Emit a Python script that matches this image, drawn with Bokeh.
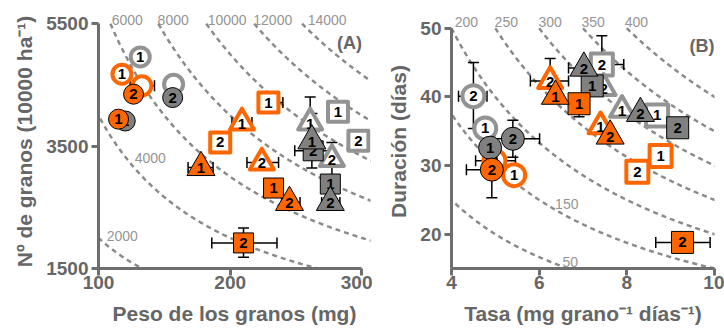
import numpy as np
from bokeh.plotting import figure
from bokeh.layouts import row
from bokeh.models import ColumnDataSource, Label, Range1d, FixedTicker
from bokeh.core.properties import value
from bokeh.embed import file_html
from bokeh.resources import INLINE

NA = float("nan")

# ---------------- Panel A: grain weight (mg) vs grain number (10000 ha-1)
A_shape = ["circle", "circle", "circle", "circle", "circle", "circle", "circle", "circle",
           "triangle", "triangle", "triangle", "triangle", "triangle", "triangle", "triangle", "triangle",
           "square", "square", "square", "square", "square", "square", "square", "square"]
A_color = ["grey", "orange", "orange", "grey", "orange", "grey", "orange", "grey",
           "orange", "orange", "orange", "orange", "grey", "grey", "grey", "grey",
           "orange", "orange", "orange", "orange", "grey", "grey", "grey", "grey"]
A_style = ["open", "open", "open", "open", "filled", "filled", "filled", "filled",
           "open", "filled", "open", "filled", "open", "filled", "open", "filled",
           "open", "open", "filled", "filled", "open", "open", "filled", "filled"]
A_label = ["1", "1", "", "", "2", "2", "1", "1",
           "1", "1", "2", "2", "1", "1", "2", "2",
           "1", "2", "1", "2", "1", "2", "1", "2"]
A_x = [131.7, 117.8, 133.0, 157.0, 126.6, 156.3, 115.2, 120.3,
       208.9, 177.8, 224.0, 245.0, 260.7, 262.0, 277.2, 276.0,
       229.0, 192.4, 232.9, 210.1, 281.8, 297.3, 276.0, 263.0]
A_y = [4957, 4674, 4484, 4511, 4348, 4293, 3940, 3910,
       3885, 3151, 3232, 2580, 3885, 3586, 3288, 2580,
       4211, 3559, 2815, 1918, 4060, 3586, 2880, 3423]
A_xlo = [NA, NA, 124.0, NA, NA, NA, NA, NA,
         201.3, 168.0, 212.7, 239.0, NA, NA, NA, 269.4,
         NA, NA, NA, 186.0, NA, NA, NA, 249.0]
A_xhi = [NA, NA, 142.5, NA, NA, NA, NA, NA,
         216.5, 187.0, 236.7, 253.0, NA, NA, NA, 283.3,
         240.0, NA, NA, 235.5, NA, NA, NA, 277.0]
A_ylo = [NA, NA, NA, NA, NA, NA, NA, NA,
         NA, NA, NA, NA, 3466, 3141, 3017, NA,
         NA, NA, NA, 1683, NA, NA, NA, NA]
A_yhi = [NA, NA, NA, NA, NA, NA, NA, NA,
         NA, NA, NA, NA, 4304, 4031, 3559, NA,
         NA, NA, NA, 2162, NA, NA, NA, NA]

A_iso_levels = [2000, 4000, 6000, 8000, 10000, 12000, 14000]
A_iso_text = ["6000", "8000", "10000", "12000", "14000", "4000", "2000"]
A_iso_tx = [121.8, 156.7, 197.7, 232.3, 273.6, 139.3, 118.0]
A_iso_ty = [5560, 5560, 5560, 5560, 5560, 3309, 2037]
A_xticks = [100, 200, 300]
A_yticks = [1500, 3500, 5500]

# ---------------- Panel B: rate (mg grain-1 day-1) vs duration (days)
B_shape = ["circle", "circle", "circle", "circle", "circle", "circle", "circle",
           "triangle", "triangle", "triangle", "triangle", "triangle", "triangle", "triangle", "triangle",
           "square", "square", "square", "square", "square", "square", "square", "square"]
B_color = ["grey", "grey", "orange", "orange", "grey", "grey", "orange",
           "orange", "orange", "orange", "orange", "grey", "grey", "grey", "grey",
           "grey", "grey", "grey", "grey", "orange", "orange", "orange", "orange"]
B_style = ["open", "open", "open", "open", "filled", "filled", "filled",
           "open", "filled", "open", "filled", "filled", "open", "open", "filled",
           "open", "filled", "open", "filled", "filled", "open", "open", "filled"]
B_label = ["2", "1", "2", "1", "1", "2", "2",
           "2", "1", "1", "2", "2", "2", "1", "2",
           "2", "1", "1", "2", "1", "1", "2", "2"]
B_x = [4.50, 4.77, 4.98, 5.43, 4.88, 5.40, 4.92,
       6.25, 6.37, 7.40, 7.62, 7.02, 7.47, 7.89, 8.31,
       7.43, 7.21, 8.69, 9.16, 6.91, 8.77, 8.24, 9.27]
B_y = [40.1, 35.4, 30.7, 28.6, 32.6, 33.9, 29.4,
       42.3, 40.1, 35.7, 34.3, 44.2, 41.3, 38.1, 37.6,
       44.7, 41.6, 37.3, 35.5, 39.0, 31.4, 29.1, 18.8]
B_xlo = [4.16, NA, 4.55, NA, NA, 4.79, 4.34,
         5.80, NA, NA, NA, 6.67, NA, NA, NA,
         NA, NA, NA, NA, NA, NA, NA, 8.66]
B_xhi = [4.81, NA, 5.46, NA, NA, 6.01, 5.49,
         6.67, NA, NA, NA, NA, NA, NA, NA,
         7.93, NA, NA, NA, NA, NA, NA, 9.90]
B_ylo = [35.4, NA, NA, NA, NA, 31.2, 25.3,
         NA, NA, NA, NA, NA, NA, NA, NA,
         NA, NA, NA, NA, 37.1, NA, NA, NA]
B_yhi = [45.0, NA, 33.1, NA, NA, 36.6, 33.5,
         45.6, NA, NA, NA, NA, NA, NA, NA,
         48.9, NA, NA, NA, NA, NA, NA, NA]

B_iso_levels = [100, 150, 200, 250, 300, 350, 400]
B_iso_text = ["200", "250", "300", "350", "400", "150", "50"]
B_iso_tx = [4.34, 5.25, 6.25, 7.23, 8.22, 6.63, 6.71]
B_iso_ty = [50.85, 50.85, 50.85, 50.85, 50.85, 24.4, 15.9]
B_xticks = [4, 6, 8, 10]
B_yticks = [20, 30, 40, 50]

# ---------------- styling
FONT = "Liberation Sans"
FILL = {"orange": "#FF6600", "grey": "#808080"}
RING = {"orange": "#FF6600", "grey": "#939393"}
AXIS_C = "#6e6e6e"
TEXT_C = "#666666"
ISO_C = "#8a8a8a"
ISO_TEXT_C = "#959595"


def make_fig(width, min_left, min_right, min_top, min_bottom, xr, yr, xbounds, ybounds,
             xticks, yticks, xlabel, ylabel):
    p = figure(width=width, height=336, x_range=Range1d(*xr), y_range=Range1d(*yr),
               output_backend="svg", toolbar_location=None,
               min_border_left=min_left, min_border_right=min_right, min_border_top=min_top,
               min_border_bottom=min_bottom)
    p.outline_line_color = None
    p.grid.visible = False
    p.xaxis.bounds = xbounds
    p.yaxis.bounds = ybounds
    p.xaxis.ticker = FixedTicker(ticks=xticks)
    p.yaxis.ticker = FixedTicker(ticks=yticks)
    p.xaxis.axis_label = xlabel
    p.yaxis.axis_label = ylabel
    for ax in (p.xaxis[0], p.yaxis[0]):
        ax.axis_line_color = AXIS_C
        ax.axis_line_width = 3
        ax.major_tick_line_color = AXIS_C
        ax.major_tick_line_width = 3
        ax.major_tick_out = 7
        ax.major_tick_in = 0
        ax.minor_tick_line_color = None
        ax.major_label_text_font = FONT
        ax.major_label_text_font_style = "bold"
        ax.major_label_text_font_size = "19px"
        ax.major_label_text_color = TEXT_C
        ax.axis_label_text_font = FONT
        ax.axis_label_text_font_style = "bold"
        ax.axis_label_text_font_size = "21px"
        ax.axis_label_text_color = TEXT_C
    p.xaxis.major_label_standoff = 0
    p.xaxis.axis_label_standoff = 10
    p.yaxis.major_label_standoff = 3
    p.yaxis.axis_label_standoff = 7
    return p


def draw_iso(p, levels, k, ytop, xmin, xmax):
    xs, ys = [], []
    for L in levels:
        xg = np.linspace(max(L * k / ytop, xmin), xmax, 300)
        xs.append(list(xg))
        ys.append(list(L * k / xg))
    p.multi_line(xs=xs, ys=ys, line_color=ISO_C, line_width=2.5, line_dash="5 4")


def draw_iso_labels(p, texts, tx, ty):
    for t, x, y in zip(texts, tx, ty):
        p.add_layout(Label(x=x, y=y, text=t, text_font=FONT, text_font_size="14px",
                           text_color=ISO_TEXT_C, text_align="center", text_baseline="middle"))


def draw_errors(p, xs, ys, xlo, xhi, ylo, yhi):
    x0, y0, x1, y1 = [], [], [], []
    hcx, hcy, vcx, vcy = [], [], [], []
    for i in range(len(xs)):
        for end in (xlo[i], xhi[i]):
            if not np.isnan(end):
                x0.append(xs[i]); y0.append(ys[i]); x1.append(end); y1.append(ys[i])
                vcx.append(end); vcy.append(ys[i])
        for end in (ylo[i], yhi[i]):
            if not np.isnan(end):
                x0.append(xs[i]); y0.append(ys[i]); x1.append(xs[i]); y1.append(end)
                hcx.append(xs[i]); hcy.append(end)
    p.segment(x0=x0, y0=y0, x1=x1, y1=y1, line_color="black", line_width=1.5)
    p.scatter(x=hcx, y=hcy, marker="dash", size=11, angle=0, line_color="black", line_width=1.5)
    p.scatter(x=vcx, y=vcy, marker="dash", size=11, angle=np.pi / 2, line_color="black", line_width=1.5)


def draw_markers(p, shape, color, style, label, xs, ys, sizes):
    order = [("square", "open"), ("circle", "open"), ("triangle", "open"),
             ("square", "filled"), ("circle", "filled"), ("triangle", "filled")]
    for shp, sty in order:
        for col in ("grey", "orange"):
            idx = [i for i in range(len(xs)) if shape[i] == shp and style[i] == sty and color[i] == col]
            if not idx:
                continue
            src = ColumnDataSource(dict(x=[xs[i] for i in idx], y=[ys[i] for i in idx],
                                        t=[label[i] for i in idx]))
            if sty == "filled":
                p.scatter("x", "y", source=src, marker=shp, size=sizes[(shp, sty)],
                          fill_color=FILL[col], line_color="black", line_width=1)
            else:
                p.scatter("x", "y", source=src, marker=shp, size=sizes[(shp, sty)],
                          fill_color="white", line_color=RING[col], line_width=4,
                          line_join="round")
            p.text("x", "y", text="t", source=src, text_font=value(FONT),
                   text_font_style="bold", text_font_size="15px", text_color="black",
                   text_align="center", text_baseline="middle",
                   y_offset=1 if shp == "triangle" else 0)


# ---------------- Panel A
pA = make_fig(372, 98, 2, 14, 68, (100, 306.5), (1500, 5650), (100, 300), (1500, 5500),
              A_xticks, A_yticks,
              "Peso de los granos (mg)", "N\u00ba de granos (10000 ha\u207b\u00b9)")
draw_iso(pA, A_iso_levels, 100.0, 5500.0, 95.0, 320.0)
draw_iso_labels(pA, A_iso_text, A_iso_tx, A_iso_ty)
draw_errors(pA, A_x, A_y, A_xlo, A_xhi, A_ylo, A_yhi)
sizes_A = {("circle", "open"): 19, ("circle", "filled"): 20,
           ("square", "open"): 20, ("square", "filled"): 20,
           ("triangle", "open"): 24, ("triangle", "filled"): 28}
draw_markers(pA, A_shape, A_color, A_style, A_label, A_x, A_y, sizes_A)
pA.add_layout(Label(x=300, y=5185, text="(A)", text_font=FONT, text_font_style="bold",
                    text_font_size="18px", text_color=TEXT_C, text_align="right",
                    text_baseline="middle"))

# ---------------- Panel B
pB = make_fig(352, 79, 10, 10, 65, (4, 10), (15, 52), (4, 10), (15, 50),
              B_xticks, B_yticks,
              "Tasa (mg grano\u207b\u00b9 d\u00edas\u207b\u00b9)", "Duraci\u00f3n (d\u00edas)")
draw_iso(pB, B_iso_levels, 1.0, 50.0, 3.8, 10.3)
draw_iso_labels(pB, B_iso_text, B_iso_tx, B_iso_ty)
draw_errors(pB, B_x, B_y, B_xlo, B_xhi, B_ylo, B_yhi)
sizes_B = {("circle", "open"): 22, ("circle", "filled"): 23,
           ("square", "open"): 22, ("square", "filled"): 22,
           ("triangle", "open"): 24, ("triangle", "filled"): 28}
draw_markers(pB, B_shape, B_color, B_style, B_label, B_x, B_y, sizes_B)
pB.add_layout(Label(x=10, y=47.4, text="(B)", text_font=FONT, text_font_style="bold",
                    text_font_size="18px", text_color=TEXT_C, text_align="right",
                    text_baseline="middle"))

layout = row(pA, pB)
open("out.html", "w").write(file_html(layout, INLINE))
